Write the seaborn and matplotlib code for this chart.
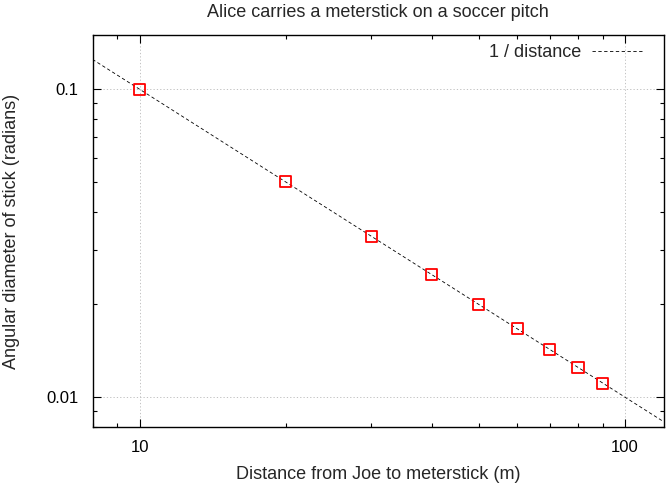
import matplotlib
matplotlib.use("Agg")
import matplotlib.pyplot as plt
import seaborn as sns
import pandas as pd
from matplotlib.ticker import LogLocator, NullFormatter, FixedLocator, FixedFormatter

sns.set_theme(style="ticks")
plt.rcParams['font.family'] = ['Liberation Sans', 'DejaVu Sans']

# measured points: distance (m) vs angular diameter (rad)
distances = [10, 20, 30, 40, 50, 60, 70, 80, 90]
angles = [0.1, 0.05, 0.0333, 0.025, 0.02, 0.0167, 0.0143, 0.0125, 0.0111]

# the 1/distance reference line, end points across the plotted range
line_x = [8, 120]
line_y = [0.125, 0.00833]

pts = pd.DataFrame({"distance": distances, "angle": angles})
ref = pd.DataFrame({"distance": line_x, "angle": line_y})

fig = plt.figure(figsize=(6.66, 4.83), dpi=100)
ax = fig.add_axes([92.5 / 666, 1 - 427 / 483, (663.5 - 92.5) / 666, (427 - 35) / 483])

ax.set_xscale("log")
ax.set_yscale("log")
ax.set_xlim(8, 120)
ax.set_ylim(0.008, 0.15)

ax.grid(True, which="major", color="#b8b8b8", linestyle=(0, (1.5, 2.5)), linewidth=0.6)

sns.lineplot(data=ref, x="distance", y="angle", ax=ax, color="black",
             linewidth=0.6, dashes=False, linestyle=(0, (4, 3)), label="1 / distance")
sns.scatterplot(data=pts, x="distance", y="angle", ax=ax, marker="s", s=64,
                facecolor="none", edgecolor="red", linewidth=1.3, zorder=3)

ax.xaxis.set_major_locator(FixedLocator([10, 100]))
ax.xaxis.set_major_formatter(FixedFormatter(["10", "100"]))
ax.xaxis.set_minor_locator(LogLocator(base=10, subs=range(2, 10)))
ax.xaxis.set_minor_formatter(NullFormatter())
ax.yaxis.set_major_locator(FixedLocator([0.01, 0.1]))
ax.yaxis.set_major_formatter(FixedFormatter(["0.01", "0.1"]))
ax.yaxis.set_minor_locator(LogLocator(base=10, subs=range(2, 10)))
ax.yaxis.set_minor_formatter(NullFormatter())

ax.tick_params(which="both", direction="in", top=True, right=True, colors="black",
               labelsize=12, width=0.8)
ax.tick_params(which="major", length=6)
ax.tick_params(axis="y", which="major", pad=10)
ax.tick_params(axis="x", which="major", pad=9)
ax.tick_params(which="minor", length=3)
for s in ax.spines.values():
    s.set_color("black")
    s.set_linewidth(1.0)

ax.set_xlabel("Distance from Joe to meterstick (m)", fontsize=13)
ax.set_ylabel("Angular diameter of stick (radians)", fontsize=13)
ax.xaxis.set_label_coords(0.5, -0.099)
ax.yaxis.set_label_coords(-0.127, 0.5)
ax.set_title("Alice carries a meterstick on a soccer pitch", fontsize=13, pad=13)

ax.legend(loc="upper right", frameon=False, markerfirst=False, fontsize=13,
          handlelength=2.8, handletextpad=0.6, borderaxespad=0,
          bbox_to_anchor=(650 / 666, 1 - 37 / 483), bbox_transform=fig.transFigure)

fig.savefig("out.png", dpi=100)
